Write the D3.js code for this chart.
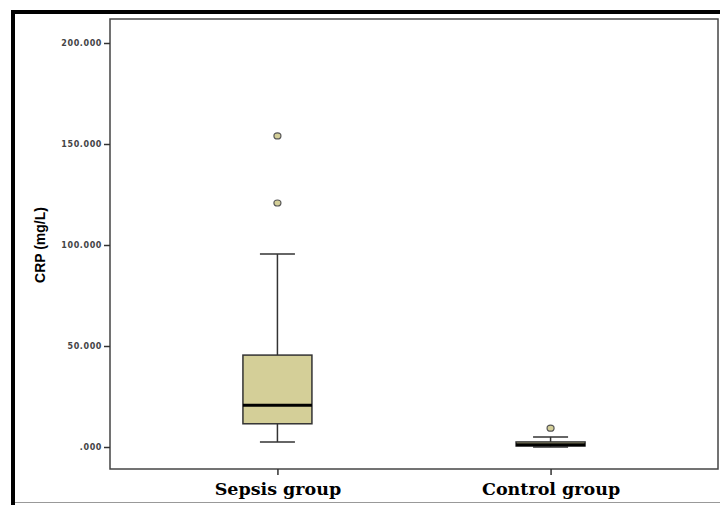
<!DOCTYPE html>
<html>
<head>
<meta charset="utf-8">
<script src="https://cdn.jsdelivr.net/npm/d3@7"></script>
<style>
  body { margin: 0; background: #fff; }
  svg { display: block; }
</style>
</head>
<body>
<div id="chart"></div>
<script>
// CRP box plot
const groups = ["Sepsis group", "Control group"];
const whiskerLow = [2.5, 0.0];
const q1 = [11.5, 0.5];
const median = [20.7, 1.1];
const q3 = [45.5, 2.5];
const whiskerHigh = [95.5, 5.0];
const outliers = [[154.0, 120.8], [9.3]];
const yTicks = [0, 50, 100, 150, 200];

const W = 720, H = 505;
const plot = { left: 110, top: 19, right: 718, bottom: 469 };

const svg = d3.select("#chart")
    .append("svg")
    .attr("width", W)
    .attr("height", H);

// outer frame
svg.append("line").attr("x1", 11).attr("x2", 720).attr("y1", 12).attr("y2", 12)
    .attr("stroke", "#000").attr("stroke-width", 4);
svg.append("line").attr("x1", 13).attr("x2", 13).attr("y1", 10).attr("y2", 505)
    .attr("stroke", "#000").attr("stroke-width", 4);
svg.append("line").attr("x1", 15).attr("x2", 720).attr("y1", 502.5).attr("y2", 502.5)
    .attr("stroke", "#999").attr("stroke-width", 1);

const y = d3.scaleLinear().domain([0, 200]).range([447, 43]);
const x = d3.scalePoint().domain(groups).range([plot.left, plot.right]).padding(0.613);

// plot border
svg.append("rect")
    .attr("x", plot.left).attr("y", plot.top)
    .attr("width", plot.right - plot.left).attr("height", plot.bottom - plot.top)
    .attr("fill", "none").attr("stroke", "#444").attr("stroke-width", 1.5);

// y axis
const yAxis = svg.append("g")
    .attr("transform", `translate(${plot.left},0)`)
    .call(d3.axisLeft(y).tickValues(yTicks).tickSize(6).tickSizeOuter(0)
        .tickFormat(d => d === 0 ? ".000" : d3.format(".3f")(d)));
yAxis.select(".domain").remove();
yAxis.selectAll(".tick line").attr("stroke", "#333").attr("stroke-width", 1.5);
yAxis.selectAll(".tick text")
    .attr("x", -8)
    .attr("fill", "#444")
    .style("font-family", "DejaVu Sans")
    .style("font-size", "8px")
    .style("font-weight", "bold")
    .style("letter-spacing", "0.6px");

// x axis
const xAxis = svg.append("g")
    .attr("transform", `translate(0,${plot.bottom})`)
    .call(d3.axisBottom(x).tickSize(6).tickSizeOuter(0));
xAxis.select(".domain").remove();
xAxis.selectAll(".tick line").attr("stroke", "#333").attr("stroke-width", 1.5);
xAxis.selectAll(".tick text")
    .attr("y", 14)
    .attr("fill", "#000")
    .style("font-family", "DejaVu Serif")
    .style("font-size", "17.5px")
    .style("font-weight", "bold");

// y title
svg.append("text")
    .attr("transform", "translate(45,245) rotate(-90)")
    .attr("text-anchor", "middle")
    .style("font-family", "Liberation Sans")
    .style("font-size", "14px")
    .style("font-weight", "bold")
    .text("CRP (mg/L)");

const boxW = 69, capW = 35;
const fill = "#d4cf98", stroke = "#333";

const g = svg.append("g");
groups.forEach((name, i) => {
    const cx = x(name);
    // whiskers
    g.append("line").attr("x1", cx).attr("x2", cx)
        .attr("y1", y(q3[i])).attr("y2", y(whiskerHigh[i]))
        .attr("stroke", stroke).attr("stroke-width", 1.5);
    g.append("line").attr("x1", cx).attr("x2", cx)
        .attr("y1", y(q1[i])).attr("y2", y(whiskerLow[i]))
        .attr("stroke", stroke).attr("stroke-width", 1.5);
    [whiskerLow[i], whiskerHigh[i]].forEach(v => {
        g.append("line").attr("x1", cx - capW / 2).attr("x2", cx + capW / 2)
            .attr("y1", y(v)).attr("y2", y(v))
            .attr("stroke", stroke).attr("stroke-width", 1.5);
    });
    // box
    g.append("rect")
        .attr("x", cx - boxW / 2).attr("width", boxW)
        .attr("y", y(q3[i])).attr("height", y(q1[i]) - y(q3[i]))
        .attr("fill", fill).attr("stroke", stroke).attr("stroke-width", 1.5);
    // median
    g.append("line").attr("x1", cx - boxW / 2).attr("x2", cx + boxW / 2)
        .attr("y1", y(median[i])).attr("y2", y(median[i]))
        .attr("stroke", "#000").attr("stroke-width", 3);
    // outliers
    outliers[i].forEach(v => {
        g.append("ellipse")
            .attr("cx", cx).attr("cy", y(v))
            .attr("rx", 3.5).attr("ry", 3)
            .attr("fill", fill).attr("stroke", "#555").attr("stroke-width", 1.2);
    });
});
</script>
</body>
</html>
